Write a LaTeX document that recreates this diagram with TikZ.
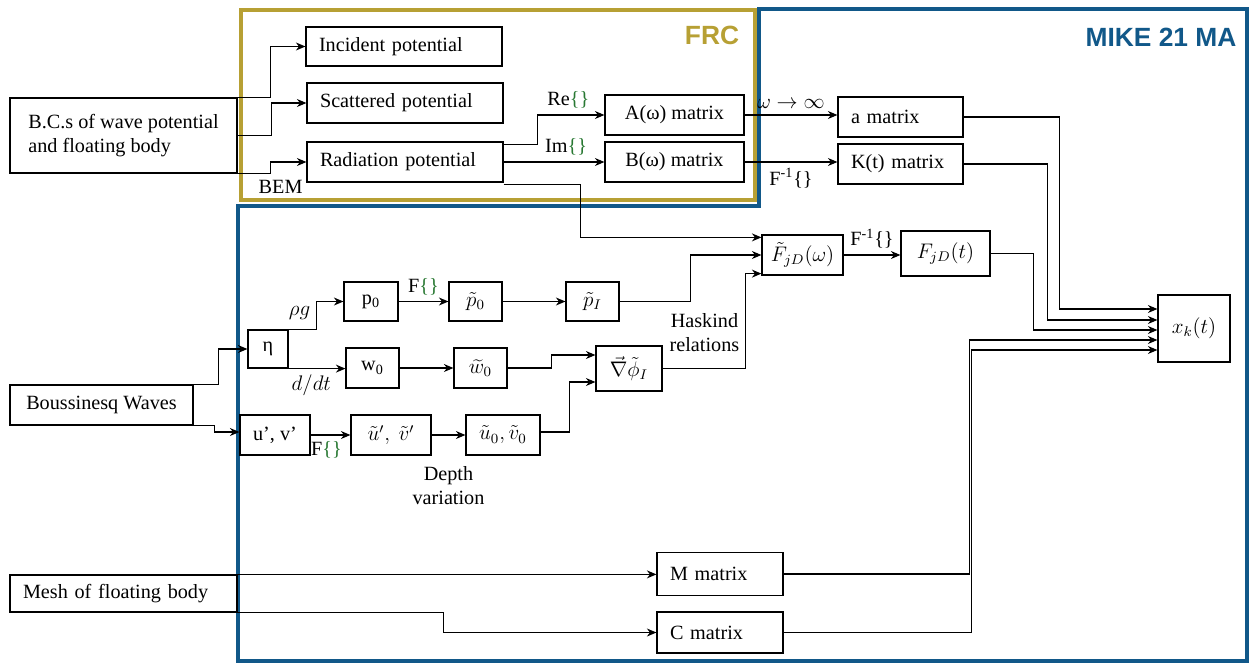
\documentclass[tikz,border=0pt]{standalone}
\usepackage{fontspec}
\setmainfont{Liberation Serif}
\setsansfont{Liberation Sans}
\usetikzlibrary{arrows.meta,calc}
\definecolor{frcgold}{RGB}{183,160,52}
\definecolor{mikeblue}{RGB}{17,88,137}
\definecolor{brgreen}{RGB}{40,120,50}
\newcommand{\gbr}{\textcolor{brgreen}{\{\}}}

\begin{document}
\begin{tikzpicture}[x=0.02cm,y=-0.02cm,
	font=\fontsize{11.5}{13.5}\selectfont,
	blk/.style={draw,line width=0.7pt,inner sep=0pt},
	lbox/.style={blk,align=left,inner xsep=0.26cm},
	arr/.style={-{Stealth[length=1.9mm,width=1.6mm]},line width=0.6pt},
	zone/.style={line width=2.4pt},
	tag/.style={font=\sffamily\bfseries\fontsize{15}{17}\selectfont}]
	\useasboundingbox (0,0) rectangle (1250,666);
	\draw[zone,mikeblue] (238,206) -- (759,206) -- (759,9) -- (1247,9) -- (1247,661) -- (238,661) -- cycle;
	\draw[zone,frcgold] (241,10) rectangle (755,200);
	\node[tag,text=frcgold] (frc) at (712,35) {FRC};
	\node[tag,text=mikeblue] (mike) at (1161,37) {MIKE 21 MA};

	\node[blk,align=left,minimum width=4.54cm,minimum height=1.5cm] (bcs) at (123.5,135.5) {B.C.s of wave potential\\and floating body};
	\node[lbox,text width=3.4cm,minimum height=0.78cm] (inc) at (404,46.5) {Incident potential};
	\node[lbox,text width=3.4cm,minimum height=0.8cm] (sca) at (405,103) {Scattered potential};
	\node[lbox,text width=3.4cm,minimum height=0.8cm] (rad) at (405,162) {Radiation potential};
	\node[blk,minimum width=2.78cm,minimum height=0.8cm] (Aw) at (674.5,115) {A(ω) matrix};
	\node[blk,minimum width=2.78cm,minimum height=0.8cm] (Bw) at (674.5,162) {B(ω) matrix};
	\node[lbox,text width=1.98cm,minimum height=0.8cm] (ainf) at (900.5,117) {a matrix};
	\node[lbox,text width=1.98cm,minimum height=0.8cm] (Kt) at (900.5,164) {K(t) matrix};

	\node[blk,minimum width=0.8cm,minimum height=0.76cm] (eta) at (268,349) {η};
	\node[blk,minimum width=1.08cm,minimum height=0.78cm] (p0) at (371,301.5) {p\textsubscript{0}};
	\node[blk,minimum width=1.06cm,minimum height=0.78cm] (pt0) at (475.5,301.5) {$\tilde{p}_0$};
	\node[blk,minimum width=1.06cm,minimum height=0.78cm] (ptI) at (592.5,301.5) {$\tilde{p}_I$};
	\node[blk,minimum width=1.06cm,minimum height=0.8cm] (w0) at (372.5,368) {w\textsubscript{0}};
	\node[blk,minimum width=1.06cm,minimum height=0.8cm] (wt0) at (480.5,368) {$\widetilde{w}_0$};
	\node[blk,minimum width=1.32cm,minimum height=0.9cm] (grad) at (629,368.5) {$\vec{\nabla}\tilde{\phi}_I$};
	\node[blk,minimum width=1.4cm,minimum height=0.8cm] (uv) at (275,435) {u’, v’};
	\node[blk,minimum width=1.6cm,minimum height=0.8cm] (uvt) at (391,435) {$\tilde{u}',\ \tilde{v}'$};
	\node[blk,minimum width=1.48cm,minimum height=0.8cm] (uv0) at (503,435) {$\tilde{u}_0,\tilde{v}_0$};
	\node[blk,minimum width=1.62cm,minimum height=0.8cm] (fom) at (802.5,255) {$\tilde{F}_{jD}(\omega)$};
	\node[blk,minimum width=1.78cm,minimum height=0.9cm] (ft) at (945.5,253.5) {$F_{jD}(t)$};
	\node[blk,minimum width=1.44cm,minimum height=1.34cm] (xk) at (1194,328.5) {$x_k(t)$};

	\node[blk,minimum width=3.66cm,minimum height=0.8cm] (bous) at (101.5,405) {Boussinesq Waves};
	\node[lbox,text width=4.02cm,minimum height=0.74cm] (mesh) at (123.5,593.5) {Mesh of floating body};
	\node[lbox,text width=2cm,minimum height=0.86cm] (Mm) at (720,574) {M matrix};
	\node[lbox,text width=2cm,minimum height=0.82cm] (Cm) at (720,632.5) {C matrix};

	\draw[arr] (bcs.north east) -- ++(33,0) |- (inc.west);
	\draw[arr] (bcs.east) -- ++(34,0) |- (sca.west);
	\draw[arr] (bcs.south east) -- ++(33,0) node[below,xshift=0.2cm] (bem) {BEM} |- (rad.west);
	\draw[arr] ($(rad.north east)+(0,3)$) -- ++(34,0) |- node[above,pos=0.73] (re) {Re\gbr} (Aw.west);
	\draw[arr] (rad.east) -- node[above,pos=0.62] (im) {Im\gbr} (Bw.west);
	\draw[arr] ($(rad.south east)+(0,2)$) -- ++(77,0) |- ($(fom.north west)+(0,3)$);
	\draw[arr] (Aw.east) -- node[above] (winf) {$\omega\rightarrow\infty$} (Aw.east -| ainf.west);
	\draw[arr] (Bw.east) -- node[below] (finv) {F\textsuperscript{-1}\{\}} (Bw.east -| Kt.west);

	\draw[arr] (bous.north east) -- ++(25,0) |- (eta.west);
	\draw[arr] (bous.south east) -- ++(21,0) |- ($(uv.west)+(0,-3)$);
	\draw[arr] (eta.north east) -- ++(28,0) |- node[left,pos=0.3] (rhog) {$\rho g$} (p0.west);
	\draw[arr] (eta.south east) -- node[below,pos=0.4] (ddt) {$d/dt$} (eta.south east -| w0.west);
	\draw[arr] (p0.east) -- node[above] (f1) {F\gbr} (pt0.west);
	\draw[arr] (pt0.east) -- (ptI.west);
	\draw[arr] (w0.east) -- (wt0.west);
	\draw[arr] (wt0.east) -- ++(44,0) |- ($(grad.west)+(0,-13.5)$);
	\draw[arr] ($(uv0.east)+(0,-3)$) -- ++(29,0) |- ($(grad.west)+(0,13.5)$);
	\draw[arr] (uv.east) -- node[below,pos=0.4] (f2) {F\gbr} (uvt.west);
	\draw[arr] (uvt.east) -- node[below=0.5cm,align=center] (depth) {Depth\\variation} (uv0.west);
	\draw[arr] (ptI.east) -- ++(71,0) |- (fom.west);
	\draw[arr] (grad.east) -- ++(83,0) |- node[left,pos=0.19,align=center] (hask) {Haskind\\relations} ($(fom.south west)+(0,-2)$);
	\draw[arr] (fom.east) -- node[above] (finv2) {F\textsuperscript{-1}\{\}} (fom.east -| ft.west);

	\draw[arr] (mesh.north east) -- (mesh.north east -| Mm.west);
	\draw[arr] (mesh.south east) -- ++(206,0) |- (Cm.west);

	\foreach \src/\dx/\dy in {ainf/96/-19.5,Kt/84/-8.5,ft/43/1.5,Mm/186/11.5,Cm/188/21.5}{
		\draw[arr] (\src.east) -- ++(\dx,0) |- ($(xk.west)+(0,\dy)$);
	}
\end{tikzpicture}
\end{document}
